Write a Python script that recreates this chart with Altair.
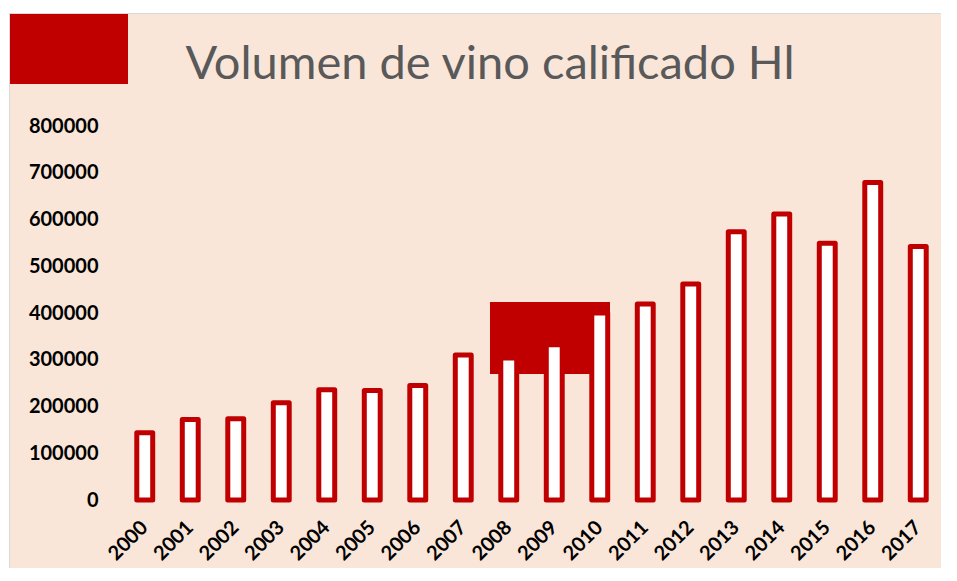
import altair as alt
import pandas as pd

years = [str(y) for y in range(2000, 2018)]
values = [144000, 172000, 174000, 208000, 236000, 234000, 245000, 310000,
          304000, 332000, 400000, 419000, 462000, 574000, 612000, 549000,
          679000, 542000]
y_ticks = [0, 100000, 200000, 300000, 400000, 500000, 600000, 700000, 800000]
title_text = "Volumen de vino calificado Hl"

RED = "#C00000"
PEACH = "#FAE6D9"
W, H = 819, 374
PB = 68

df = pd.DataFrame({"year": years, "value": values})
one = pd.DataFrame({"k": [0]})

# background panel
bg = alt.Chart(one).mark_rect(color=PEACH).encode(
    x=alt.value(-112), x2=alt.value(W), y=alt.value(-112), y2=alt.value(H + PB)
)
border_top = alt.Chart(one).mark_rule(color="#D9D9D9", strokeWidth=1).encode(
    x=alt.value(-113), x2=alt.value(W), y=alt.value(-112.5)
)
border_left = alt.Chart(one).mark_rule(color="#D9D9D9", strokeWidth=1).encode(
    x=alt.value(-112.5), y=alt.value(-113), y2=alt.value(H + PB)
)
# decorative red blocks
rect1 = alt.Chart(one).mark_rect(color=RED).encode(
    x=alt.value(-112), x2=alt.value(6), y=alt.value(-112), y2=alt.value(-42)
)
rect2 = alt.Chart(one).mark_rect(color=RED).encode(
    x=alt.value(368), x2=alt.value(488), y=alt.value(176), y2=alt.value(248)
)
title = alt.Chart(one).mark_text(
    text=title_text, font="Lato", fontSize=47, color="#595959",
    align="center", baseline="alphabetic"
).encode(x=alt.value(368), y=alt.value(-47))

bars = alt.Chart(df).mark_bar(
    fill="white", stroke=RED, strokeWidth=5, strokeJoin="round"
).encode(
    x=alt.X("year:N", sort=years,
            scale=alt.Scale(paddingInner=0.65, paddingOuter=0.325),
            axis=alt.Axis(title=None, labelAngle=-45, labelAlign="right",
                          labelBaseline="middle", labelPadding=24,
                          labelFont="Lato", labelFontSize=20,
                          labelFontWeight="bold", labelColor="black",
                          ticks=False, domain=False, grid=False, zindex=2)),
    y=alt.Y("value:Q",
            scale=alt.Scale(domain=[0, 800000], nice=False),
            axis=alt.Axis(title=None, values=y_ticks, format="d",
                          labelFont="Lato", labelFontSize=20,
                          labelFontWeight="bold", labelColor="black",
                          labelPadding=24, ticks=False, domain=False,
                          grid=False, zindex=2)),
)

chart = alt.layer(bg, border_top, border_left, rect1, title, rect2, bars).properties(
    width=W, height=H,
    autosize=alt.AutoSizeParams(type="none"),
    padding={"left": 114, "top": 118, "right": 0, "bottom": PB},
).configure_view(stroke=None).configure(background="white")

chart.save("out.html", embed_options={"renderer": "svg", "actions": False})
